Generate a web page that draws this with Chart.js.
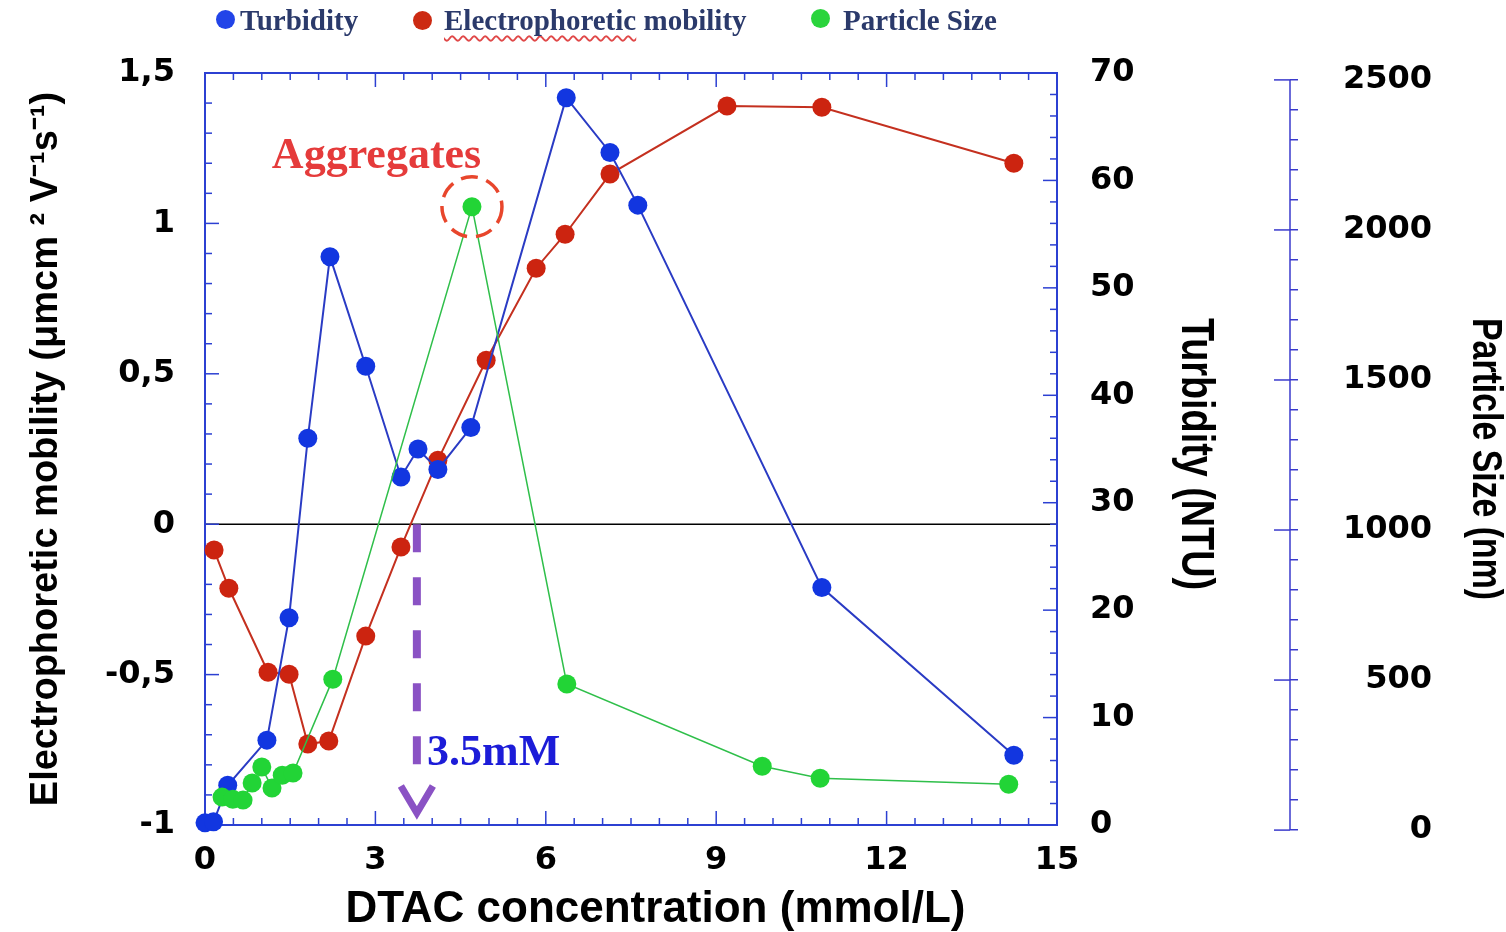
<!DOCTYPE html>
<html>
<head>
<meta charset="utf-8">
<script src="https://cdn.jsdelivr.net/npm/chart.js@4.4.1/dist/chart.umd.min.js"></script>
<style>
  body { margin: 0; background: #fff; }
  #wrap { position: relative; width: 1506px; height: 932px; }
  #legend { position: absolute; left: 0; top: 0; font-family: 'Liberation Serif', serif; font-weight: bold; font-size: 29px; color: #2b3a6b; }
  .item { position: absolute; top: 3px; white-space: nowrap; line-height: 34px; }
  .dot { position: absolute; width: 19px; height: 19px; border-radius: 50%; }
  .wavy { text-decoration: underline wavy #e04848; text-decoration-thickness: 1.5px; text-underline-offset: 5px; text-decoration-skip-ink: none; }
</style>
</head>
<body>
<div id="wrap">
  <canvas id="chart" width="1506" height="932"></canvas>
  <div id="legend">
    <div class="dot" style="left:216px; top:10px; background:#2244e8"></div>
    <div class="item" style="left:240px">Turbidity</div>
    <div class="dot" style="left:413px; top:11px; background:#cc2a12"></div>
    <div class="item" style="left:444px"><span class="wavy">Electrophoretic</span> mobility</div>
    <div class="dot" style="left:811px; top:9px; background:#2ad43c"></div>
    <div class="item" style="left:843px">Particle Size</div>
  </div>
</div>
<script>
// DTAC concentration (mmol/L) for each series
const turbX = [0, 0.15, 0.40, 1.09, 1.48, 1.81, 2.20, 2.83, 3.45, 3.75, 4.10, 4.68, 6.36, 7.13, 7.62, 10.86, 14.24];
const turbidity = [0.2, 0.3, 3.7, 7.9, 19.3, 36.0, 52.9, 42.7, 32.4, 35.0, 33.1, 37.0, 67.7, 62.6, 57.7, 22.1, 6.5];

const mobX = [0.16, 0.42, 1.11, 1.48, 1.81, 2.18, 2.83, 3.45, 4.10, 4.95, 5.83, 6.34, 7.13, 9.19, 10.86, 14.24];
const mobility = [-0.086, -0.213, -0.492, -0.499, -0.731, -0.721, -0.372, -0.076, 0.213, 0.545, 0.851, 0.964, 1.164, 1.390, 1.386, 1.200];

const sizeX = [0.30, 0.49, 0.67, 0.83, 1.00, 1.18, 1.36, 1.55, 2.25, 4.70, 6.37, 9.81, 10.83, 14.15];
const particleSize = [110, 103, 100, 157, 210, 140, 183, 190, 503, 2077, 487, 213, 173, 153];

const particleTicks = [0, 500, 1000, 1500, 2000, 2500];
const cmcX = 3.73; // where the dashed arrow points

const frameBlue = "#2c40d2";
const axisBlue = "#3a3acc";
const tickFont = { family: "'DejaVu Sans', sans-serif", weight: "bold", size: 32 };
const sansFamily = "'Liberation Sans', Arial, sans-serif";

function pts(xs, ys) {
    return xs.map((x, i) => ({ x: x, y: ys[i] }));
}

function seg(ctx, x1, y1, x2, y2) {
    ctx.beginPath();
    ctx.moveTo(x1, y1);
    ctx.lineTo(x2, y2);
    ctx.stroke();
}

// narrow rotated titles on the right side
function sideTitle(ctx, text, cx, cy, size, width) {
    ctx.save();
    ctx.font = "bold " + size + "px " + sansFamily;
    const w = ctx.measureText(text).width;
    ctx.translate(cx, cy);
    ctx.rotate(Math.PI / 2);
    ctx.scale(width / w, 1);
    ctx.textAlign = "center";
    ctx.textBaseline = "middle";
    ctx.fillStyle = "#000";
    ctx.fillText(text, 0, 0);
    ctx.restore();
}

// frame, inward ticks, zero line and the annotations
const decor = {
    id: "decor",
    beforeDatasetsDraw(chart) {
        const { ctx, chartArea: a, scales } = chart;
        ctx.save();
        ctx.strokeStyle = "#000";
        ctx.lineWidth = 1.5;
        const y0 = scales.y.getPixelForValue(0);
        seg(ctx, a.left, y0, a.right, y0);

        ctx.strokeStyle = frameBlue;
        ctx.lineWidth = 2;
        ctx.strokeRect(a.left, a.top, a.right - a.left, a.bottom - a.top);
        ctx.lineWidth = 1.5;
        for (let i = 0; i <= 30; i++) {
            const px = scales.x.getPixelForValue(i / 2);
            const len = i % 6 === 0 ? 14 : 7;
            seg(ctx, px, a.bottom, px, a.bottom - len);
            seg(ctx, px, a.top, px, a.top + len);
        }
        for (let i = -10; i <= 15; i++) {
            const py = scales.y.getPixelForValue(i / 10);
            seg(ctx, a.left, py, a.left + (i % 5 === 0 ? 14 : 7), py);
        }
        for (let t = 0; t <= 70; t += 2) {
            const py = scales.yT.getPixelForValue(t);
            seg(ctx, a.right, py, a.right - (t % 10 === 0 ? 14 : 7), py);
        }
        ctx.restore();
    },
    afterDatasetsDraw(chart) {
        const { ctx, scales, chartArea: a } = chart;
        const { x, y, yT, yP } = scales;
        ctx.save();

        // particle axis line, major ticks cross it
        ctx.strokeStyle = axisBlue;
        ctx.lineWidth = 1.5;
        seg(ctx, yP.left, yP.getPixelForValue(0), yP.left, yP.getPixelForValue(2500));
        particleTicks.forEach(v => {
            const py = yP.getPixelForValue(v);
            seg(ctx, yP.left - 16, py, yP.left, py);
        });

        const midY = (a.top + a.bottom) / 2;
        sideTitle(ctx, "Turbidity (NTU)", yT.left + 138, midY + 5, 46, 272);
        sideTitle(ctx, "Particle Size (nm)", yP.left + 195, midY + 10, 42, 282);

        // dashed circle round the size peak
        const peak = particleSize.indexOf(Math.max(...particleSize));
        const cx = x.getPixelForValue(sizeX[peak]);
        const cy = yP.getPixelForValue(particleSize[peak]);
        ctx.strokeStyle = "#e8462c";
        ctx.lineWidth = 3.5;
        ctx.setLineDash([17, 9]);
        ctx.beginPath();
        ctx.arc(cx, cy, 30, 0, Math.PI * 2);
        ctx.stroke();

        ctx.font = "bold 44px 'Liberation Serif', serif";
        ctx.fillStyle = "#e53b3b";
        ctx.textAlign = "center";
        ctx.textBaseline = "alphabetic";
        ctx.fillText("Aggregates", x.getPixelForValue(3.02), y.getPixelForValue(1.183));

        // dashed arrow at the charge reversal
        const ax = x.getPixelForValue(cmcX);
        const top = y.getPixelForValue(0);
        const end = y.getPixelForValue(-0.80);
        ctx.strokeStyle = "#8a52c4";
        ctx.lineWidth = 8;
        ctx.setLineDash([28, 25]);
        seg(ctx, ax, top, ax, end);
        ctx.setLineDash([]);
        ctx.lineWidth = 7;
        const tip = y.getPixelForValue(-0.96);
        ctx.beginPath();
        ctx.moveTo(ax - 16, tip - 27);
        ctx.lineTo(ax, tip);
        ctx.lineTo(ax + 16, tip - 27);
        ctx.stroke();

        ctx.fillStyle = "#1c1cd8";
        ctx.textAlign = "left";
        ctx.fillText("3.5mM", x.getPixelForValue(3.91), y.getPixelForValue(-0.80));
        ctx.restore();
    }
};

new Chart(document.getElementById("chart"), {
    type: "line",
    data: {
        datasets: [
            {
                label: "Particle Size",
                data: pts(sizeX, particleSize),
                yAxisID: "yP",
                borderColor: "#2fbf4a",
                backgroundColor: "#22d436",
                borderWidth: 1.5,
                pointRadius: 9.5,
                pointBorderWidth: 0,
                order: 0,
                clip: false
            },
            {
                label: "Turbidity",
                data: pts(turbX, turbidity),
                yAxisID: "yT",
                borderColor: "#2a3bc4",
                backgroundColor: "#1236e0",
                borderWidth: 2,
                pointRadius: 9.5,
                pointBorderWidth: 0,
                order: 1,
                clip: false
            },
            {
                label: "Electrophoretic mobility",
                data: pts(mobX, mobility),
                yAxisID: "y",
                borderColor: "#c4301f",
                backgroundColor: "#cc2410",
                borderWidth: 2,
                pointRadius: 9.5,
                pointBorderWidth: 0,
                order: 2,
                clip: false
            }
        ]
    },
    options: {
        responsive: false,
        animation: false,
        layout: { padding: { top: 73, left: 0, right: 0, bottom: 0 } },
        plugins: { legend: { display: false }, tooltip: { enabled: false } },
        scales: {
            x: {
                type: "linear",
                min: 0,
                max: 15,
                ticks: { stepSize: 3, font: tickFont, padding: 8, color: "#000" },
                grid: { display: false },
                border: { display: false },
                title: {
                    display: true,
                    text: "    DTAC concentration (mmol/L)",
                    color: "#000",
                    font: { family: sansFamily, size: 44, weight: "bold", lineHeight: 1 },
                    padding: { top: 0, bottom: 0 }
                },
                afterFit: s => { s.height = 107; }
            },
            y: {
                position: "left",
                min: -1,
                max: 1.5,
                ticks: { stepSize: 0.5, font: tickFont, padding: 22, color: "#000", callback: v => String(v).replace(".", ",") },
                grid: { display: false },
                border: { display: false },
                title: {
                    display: true,
                    text: "Electrophoretic mobility (μmcm ² V⁻¹s⁻¹)",
                    color: "#000",
                    font: { family: sansFamily, size: 38, weight: "bold", lineHeight: 1 },
                    padding: { top: 28, bottom: 0 }
                },
                afterFit: s => { s.width = 205; }
            },
            yT: {
                position: "right",
                min: 0,
                max: 70,
                ticks: { stepSize: 10, font: tickFont, padding: 25, color: "#000" },
                grid: { display: false },
                border: { display: false },
                title: { display: false, text: "Turbidity (NTU)" },
                afterFit: s => { s.width = 233; }
            },
            yP: {
                position: "right",
                min: 17,
                max: 2523,
                afterBuildTicks: s => {
                    const t = [];
                    for (let v = 0; v <= 2500; v += 100) t.push({ value: v });
                    s.ticks = t;
                },
                ticks: {
                    autoSkip: false,
                    font: tickFont,
                    padding: 45,
                    color: "#000",
                    callback: v => particleTicks.includes(v) ? "\u2007".repeat(4 - String(v).length) + v : ""
                },
                grid: { display: true, drawOnChartArea: false, tickLength: 8, color: axisBlue, lineWidth: 1.5 },
                border: { display: false },
                title: { display: false, text: "Particle Size (nm)" },
                afterFit: s => { s.width = 216; }
            }
        }
    },
    plugins: [decor]
});
</script>
</body>
</html>
